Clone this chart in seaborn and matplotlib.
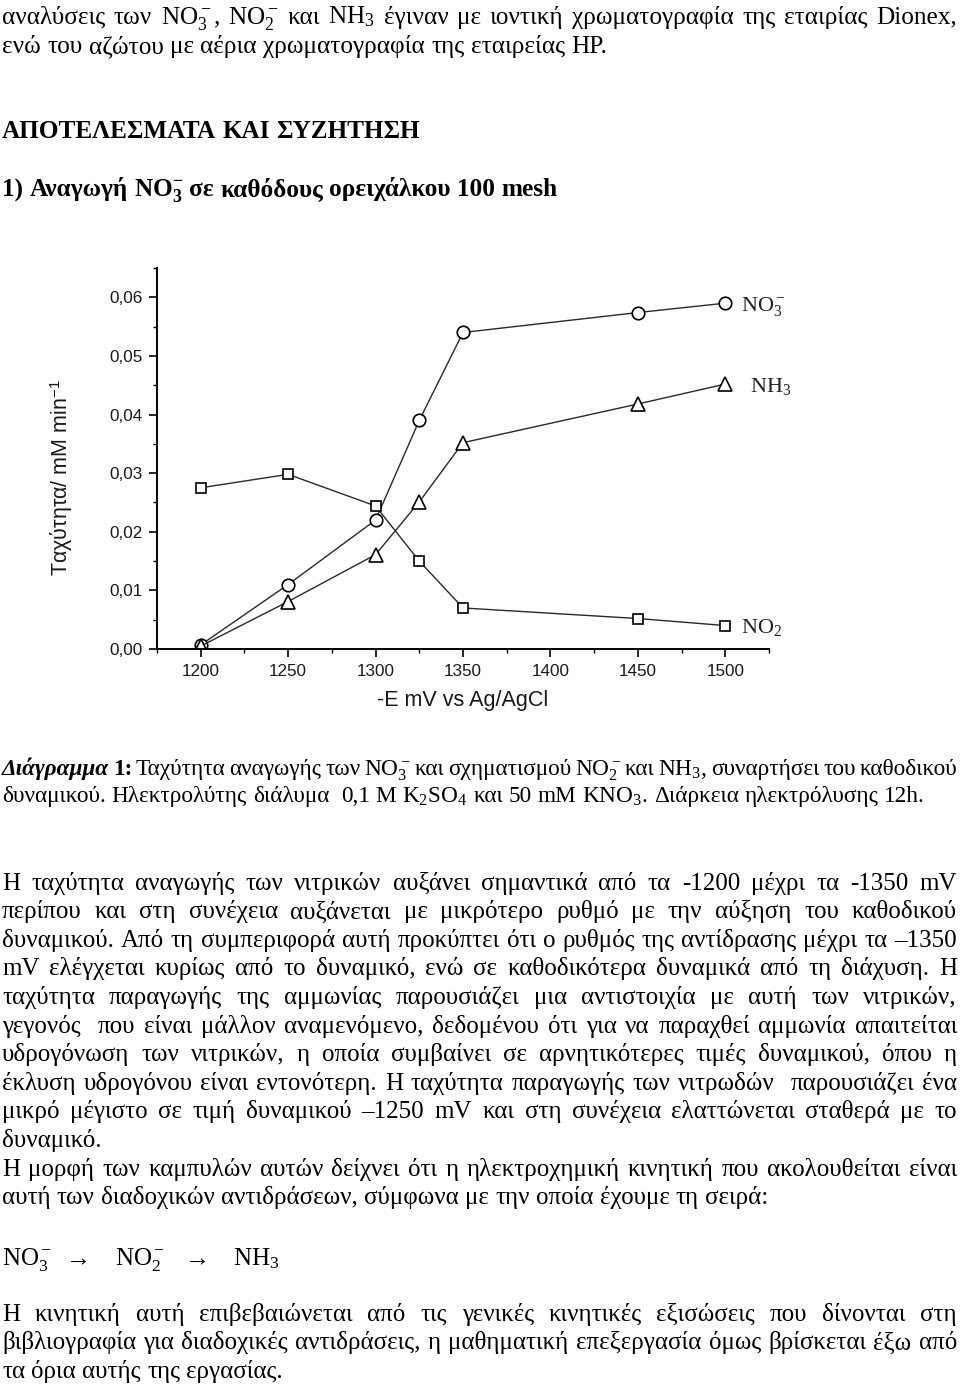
import matplotlib
matplotlib.use("Agg")
import matplotlib.pyplot as plt
import numpy as np
import pandas as pd
import seaborn as sns

# ---------------- data ----------------
potential_mv = [1200, 1250, 1300, 1325, 1350, 1450, 1500]
rate_no3 = [0.0007, 0.0110, 0.0220, 0.0390, 0.0540, 0.0574, 0.0590]
rate_nh3 = [0.0005, 0.0081, 0.0161, 0.0251, 0.0352, 0.0418, 0.0452]
rate_no2 = [0.0275, 0.0298, 0.0244, 0.0150, 0.0070, 0.0052, 0.0040]
series_names = ["NO$_3^-$", "NH$_3$", "NO$_2$"]
x_ticks = [1200, 1250, 1300, 1350, 1400, 1450, 1500]
y_ticks = [0.00, 0.01, 0.02, 0.03, 0.04, 0.05, 0.06]
y_tick_labels = ["0,00", "0,01", "0,02", "0,03", "0,04", "0,05", "0,06"]
x_label = "-E mV vs Ag/AgCl"
y_label = "Ταχύτητα/ mM min$^{\\mathsf{-1}}$"

top_lines = [
    "αναλύσεις των NO$_3^-$, NO$_2^-$ και NH$_3$ έγιναν με ιοντική χρωματογραφία της εταιρίας Dionex,",
    "ενώ του αζώτου με αέρια χρωματογραφία της εταιρείας HP.",
]
heading_1 = "ΑΠΟΤΕΛΕΣΜΑΤΑ ΚΑΙ ΣΥΖΗΤΗΣΗ"
heading_2 = "1) Αναγωγή NO$_\\mathbf{3}^\\mathbf{-}$ σε καθόδους ορειχάλκου 100 mesh"
caption_lines = [
    "Διάγραμμα 1: Ταχύτητα αναγωγής των NO$_3^-$ και σχηματισμού NO$_2^-$ και NH$_3$, συναρτήσει του καθοδικού",
    "δυναμικού. Ηλεκτρολύτης διάλυμα  0,1 M K$_2$SO$_4$ και 50 mM KNO$_3$. Διάρκεια ηλεκτρόλυσης 12h.",
]
body_lines = [
    "Η ταχύτητα αναγωγής των νιτρικών αυξάνει σημαντικά από τα -1200 μέχρι τα -1350 mV",
    "περίπου και στη συνέχεια αυξάνεται με μικρότερο ρυθμό με την αύξηση του καθοδικού",
    "δυναμικού. Από τη συμπεριφορά αυτή προκύπτει ότι ο ρυθμός της αντίδρασης μέχρι τα –1350",
    "mV ελέγχεται κυρίως από το δυναμικό, ενώ σε καθοδικότερα δυναμικά από τη διάχυση. Η",
    "ταχύτητα παραγωγής της αμμωνίας παρουσιάζει μια αντιστοιχία με αυτή των νιτρικών,",
    "γεγονός  που είναι μάλλον αναμενόμενο, δεδομένου ότι για να παραχθεί αμμωνία απαιτείται",
    "υδρογόνωση των νιτρικών, η οποία συμβαίνει σε αρνητικότερες τιμές δυναμικού, όπου η",
    "έκλυση υδρογόνου είναι εντονότερη. Η ταχύτητα παραγωγής των νιτρωδών  παρουσιάζει ένα",
    "μικρό μέγιστο σε τιμή δυναμικού –1250 mV και στη συνέχεια ελαττώνεται σταθερά με το",
    "δυναμικό.",
    "Η μορφή των καμπυλών αυτών δείχνει ότι η ηλεκτροχημική κινητική που ακολουθείται είναι",
    "αυτή των διαδοχικών αντιδράσεων, σύμφωνα με την οποία έχουμε τη σειρά:",
]
body_justified = [True, True, True, True, True, True, True, True, True, False, True, False]
equation_tokens = ["NO$_3^-$", "→", "NO$_2^-$", "→", "NH$_3$"]
final_lines = [
    "Η κινητική αυτή επιβεβαιώνεται από τις γενικές κινητικές εξισώσεις που δίνονται στη",
    "βιβλιογραφία για διαδοχικές αντιδράσεις, η μαθηματική επεξεργασία όμως βρίσκεται έξω από",
    "τα όρια αυτής της εργασίας.",
]
final_justified = [True, True, False]

# ---------------- style ----------------
sns.set_style("ticks")
plt.rcParams["font.family"] = ["Liberation Sans", "DejaVu Sans"]
plt.rcParams["mathtext.fontset"] = "custom"
plt.rcParams["mathtext.rm"] = "Liberation Serif"
plt.rcParams["mathtext.it"] = "Liberation Serif:italic"
plt.rcParams["mathtext.bf"] = "Liberation Serif:bold"
plt.rcParams["mathtext.sf"] = "Liberation Sans"
SERIF = ["Liberation Serif", "DejaVu Serif"]

W, H = 960, 1387
fig = plt.figure(figsize=(W / 100, H / 100), dpi=100)
fig.patch.set_facecolor("white")

page = fig.add_axes([0, 0, 1, 1])
page.set_xlim(0, W)
page.set_ylim(H, 0)
page.axis("off")

renderer = fig.canvas.get_renderer()

X0, X1 = 2, 957


def make_words(text, y_center, size, weight="normal", styles=None, cap_center=False):
    em = size * 100 / 72
    base = y_center + (0.33 * em if cap_center else 0.225 * em)
    toks = text.split(" ")
    objs = []
    wi = 0
    for tok in toks:
        if tok == "":
            objs.append(None)
            continue
        wgt, sty = weight, "normal"
        if styles and wi in styles:
            wgt, sty = styles[wi]
        t = page.text(0, base, tok, fontsize=size, fontweight=wgt, fontstyle=sty,
                      family=SERIF, va="baseline", ha="left", color="black")
        objs.append(t)
        wi += 1
    return objs


def widths(objs):
    return [o.get_window_extent(renderer).width if o is not None else 0.0 for o in objs]


def layout(objs, size, justify):
    em = size * 100 / 72
    ws = widths(objs)
    nsp = len(objs) - 1
    if justify and nsp > 0:
        gap = (X1 - X0 - sum(ws)) / nsp
    else:
        gap = 0.25 * em
    x = X0
    for o, w in zip(objs, ws):
        if o is not None:
            o.set_x(x)
        x += w + gap


def fit_size(lines, justify_flags, size):
    ratio = 1.0
    for txt, j in zip(lines, justify_flags):
        if not j:
            continue
        objs = make_words(txt, 0, size)
        ws = widths(objs)
        need = sum(ws) + (len(objs) - 1) * 0.17 * size * 100 / 72
        ratio = max(ratio, need / (X1 - X0))
        for o in objs:
            if o is not None:
                o.remove()
    return size / ratio


# top paragraph
s_top = fit_size(top_lines[:1], [True], 18.2)
layout(make_words(top_lines[0], 18, s_top), s_top, True)
layout(make_words(top_lines[1], 47, s_top), s_top, False)
layout(make_words(heading_1, 130, s_top, weight="bold", cap_center=True), s_top, False)
layout(make_words(heading_2, 188, s_top, weight="bold", cap_center=True), s_top, False)

# caption
s_cap = fit_size(caption_lines[:1], [True], 17.0)
cap_styles = {0: ("bold", "italic"), 1: ("bold", "normal")}
layout(make_words(caption_lines[0], 770, s_cap, styles=cap_styles), s_cap, True)
layout(make_words(caption_lines[1], 797, s_cap), s_cap, False)

# body
s_body = fit_size(body_lines + final_lines, body_justified + final_justified, 18.0)
for i, (txt, j) in enumerate(zip(body_lines, body_justified)):
    layout(make_words(txt, 884 + 28.6 * i, s_body), s_body, j)

eq_x = [2, 66, 115, 185, 233]
for tok, xx in zip(equation_tokens, eq_x):
    page.text(xx, 1257 + 0.33 * s_body * 100 / 72, tok, fontsize=s_body, family=SERIF,
              va="baseline", ha="left", color="black")

for i, (txt, j) in enumerate(zip(final_lines, final_justified)):
    layout(make_words(txt, 1315 + 28.6 * i, s_body), s_body, j)

# ---------------- chart ----------------
ax = fig.add_axes([157 / W, 1 - 649 / H, 612 / W, 381 / H])
ax.set_facecolor("white")

df = pd.DataFrame({"E": potential_mv, "no3": rate_no3, "nh3": rate_nh3, "no2": rate_no2})
line_kw = dict(color="#2a2a2a", lw=1.0, mfc="white", mec="black", mew=1.2)
sns.lineplot(data=df, x="E", y="no3", ax=ax, marker="o", ms=9, **line_kw)
sns.lineplot(data=df, x="E", y="nh3", ax=ax, marker="^", ms=9.5, **line_kw)
sns.lineplot(data=df, x="E", y="no2", ax=ax, marker="s", ms=6.5, **line_kw)

ax.set_xlim(1175, 1525)
ax.set_ylim(0, 0.065)
ax.set_xticks(x_ticks)
ax.set_xticklabels([str(v) for v in x_ticks])
ax.set_xticks(np.arange(1175, 1526, 25), minor=True)
ax.set_yticks(y_ticks, labels=y_tick_labels)
ax.set_yticks(np.arange(0, 0.0651, 0.005), minor=True)

for side in ["top", "right"]:
    ax.spines[side].set_visible(False)
for side in ["left", "bottom"]:
    ax.spines[side].set_linewidth(1.4)
    ax.spines[side].set_color("black")

ax.tick_params(axis="both", which="major", direction="out", length=6, width=1.2,
               color="black", labelsize=12.3, labelcolor="#1a1a1a")
ax.tick_params(axis="both", which="minor", direction="out", length=3, width=1.0, color="black")
ax.tick_params(axis="y", which="major", pad=4)
ax.tick_params(axis="x", which="major", pad=5)

ax.set_xlabel(x_label, fontsize=15.5, color="#1a1a1a", labelpad=8)
ax.set_ylabel(y_label, fontsize=15.5, color="#1a1a1a")
ax.yaxis.label.set_va("center")
ax.yaxis.set_label_coords(-0.155, 0.451)

series_vals = [rate_no3, rate_nh3, rate_no2]
label_dx = [11, 18, 11]
for name, vals, dx in zip(series_names, series_vals, label_dx):
    ax.annotate(name, xy=(potential_mv[-1], vals[-1]), xytext=(dx, -5.4),
                textcoords="offset points", fontsize=16, family=SERIF,
                va="baseline", ha="left", color="#222", annotation_clip=False)

fig.savefig("out.png", dpi=100, facecolor="white")
